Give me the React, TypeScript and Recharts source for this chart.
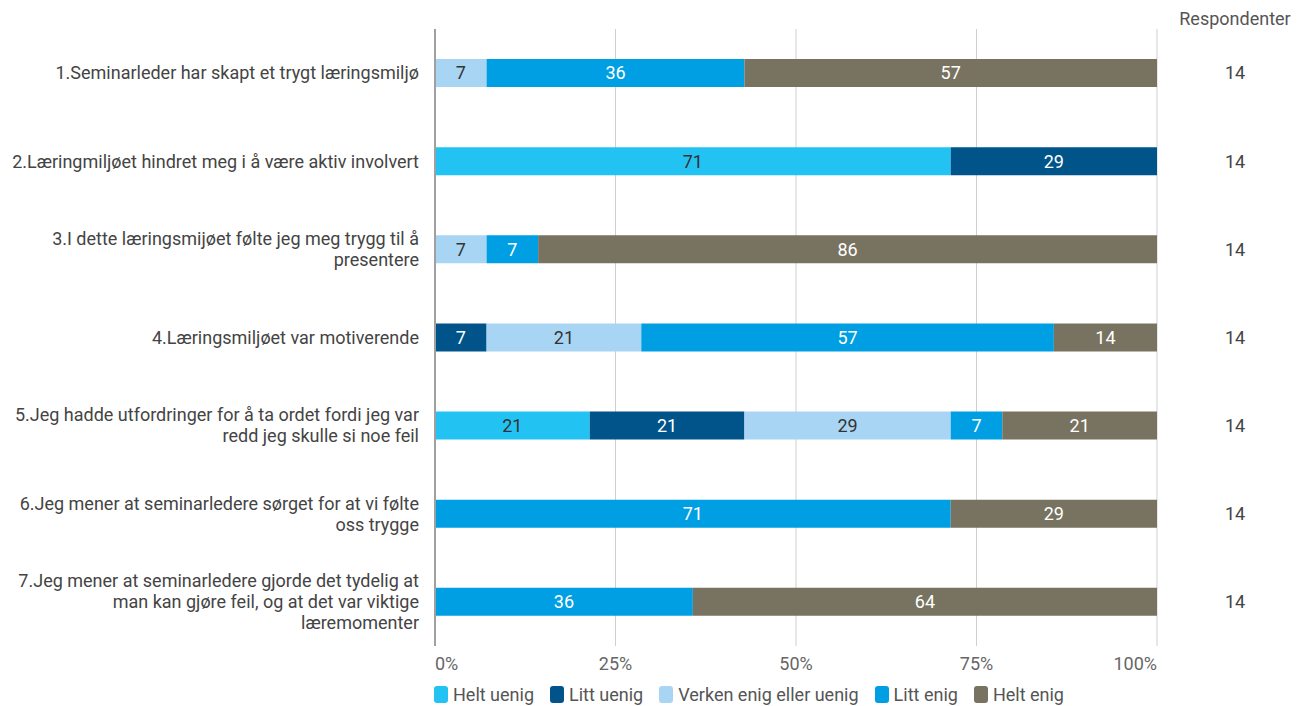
import React from "react";
import { BarChart, Bar, XAxis, YAxis, CartesianGrid, Legend, LabelList, Label } from "recharts";

// Statements (line breaks as in the original)
const statements = [
  "1.Seminarleder har skapt et trygt læringsmiljø",
  "2.Læringmiljøet hindret meg i å være aktiv involvert",
  "3.I dette læringsmijøet følte jeg meg trygg til å\npresentere",
  "4.Læringsmiljøet var motiverende",
  "5.Jeg hadde utfordringer for å ta ordet fordi jeg var\nredd jeg skulle si noe feil",
  "6.Jeg mener at seminarledere sørget for at vi følte\noss trygge",
  "7.Jeg mener at seminarledere gjorde det tydelig at\nman kan gjøre feil, og at det var viktige\nlæremomenter",
];

// answers counted per statement (14 respondents each)
const heltUenig = [0, 10, 0, 0, 3, 0, 0];
const littUenig = [0, 4, 0, 1, 3, 0, 0];
const verken = [1, 0, 1, 3, 4, 0, 0];
const littEnig = [5, 0, 1, 8, 1, 10, 5];
const heltEnig = [8, 0, 12, 2, 3, 4, 9];
const respondents = [14, 14, 14, 14, 14, 14, 14];

const percentTicks = [0, 0.25, 0.5, 0.75, 1];

const series = [
  { key: "heltUenig", name: "Helt uenig", color: "#22C3F3", text: "#333", values: heltUenig },
  { key: "littUenig", name: "Litt uenig", color: "#00548A", text: "#fff", values: littUenig },
  { key: "verken", name: "Verken enig eller uenig", color: "#A9D5F5", text: "#333", values: verken },
  { key: "littEnig", name: "Litt enig", color: "#009FE3", text: "#fff", values: littEnig },
  { key: "heltEnig", name: "Helt enig", color: "#777360", text: "#fff", values: heltEnig },
];

const FONT = 18;

const chartData = statements.map((name, i) => {
  const row: any = { name, respondents: respondents[i] };
  series.forEach((s) => {
    const v = s.values[i];
    row[s.key] = v;
    row[s.key + "Pct"] = Math.round((v / respondents[i]) * 100);
  });
  return row;
});

const CategoryTick = (props: any) => {
  const { x, y, payload } = props;
  const lines = String(payload.value).split("\n");
  const lh = 21;
  const top = y - ((lines.length - 1) * lh) / 2;
  return (
    <text x={x} y={top} textAnchor="end" fill="#444" fontSize={FONT}>
      {lines.map((l, i) => (
        <tspan key={i} x={x} y={top + i * lh} dy="0.35em">
          {l}
        </tspan>
      ))}
    </text>
  );
};

const PercentTick = (props: any) => {
  const { x, y, payload } = props;
  const v = payload.value;
  const anchor = v === 0 ? "start" : v === 1 ? "end" : "middle";
  return (
    <text x={x} y={y} dy="0.71em" textAnchor={anchor} fill="#666" fontSize={FONT}>
      {Math.round(v * 100) + "%"}
    </text>
  );
};

const RespondentTick = (props: any) => {
  const { x, y, index } = props;
  return (
    <text x={x + 78} y={y} dy="0.35em" textAnchor="middle" fill="#444" fontSize={FONT}>
      {chartData[index] ? chartData[index].respondents : ""}
    </text>
  );
};

const renderLegend = () => (
  <div style={{ display: "flex", alignItems: "center", fontSize: FONT, color: "#555", whiteSpace: "nowrap" }}>
    {series.map((s) => (
      <span key={s.key} style={{ display: "flex", alignItems: "center", marginRight: 16 }}>
        <span
          style={{ display: "inline-block", width: 14, height: 17, borderRadius: 3, background: s.color, marginRight: 5 }}
        />
        {s.name}
      </span>
    ))}
  </div>
);

export default function App() {
  return (
    <div style={{ fontFamily: "Roboto, sans-serif" }}>
      <style>{"body{margin:0}"}</style>
      <BarChart
        width={1306}
        height={706}
        data={chartData}
        layout="vertical"
        stackOffset="expand"
        margin={{ top: 29, right: 0, bottom: 3, left: 0 }}
      >
        <CartesianGrid horizontal={false} stroke="#cfcfcf" />
        <XAxis
          type="number"
          domain={[0, 1]}
          ticks={percentTicks}
          axisLine={false}
          tickLine={false}
          tickSize={0}
          tickMargin={11}
          height={36}
          tick={<PercentTick />}
          interval={0}
        />
        <YAxis
          yAxisId="left"
          type="category"
          dataKey="name"
          width={435}
          axisLine={{ stroke: "#a0a0a0", strokeWidth: 2 }}
          tickLine={false}
          tickSize={0}
          tickMargin={16}
          tick={<CategoryTick />}
          interval={0}
        />
        <YAxis
          yAxisId="right"
          orientation="right"
          type="category"
          dataKey="name"
          width={149}
          axisLine={false}
          tickLine={false}
          tickSize={0}
          tickMargin={0}
          tick={<RespondentTick />}
          interval={0}
        >
          <Label
            content={(p: any) => (
              <text x={p.viewBox.x + 78} y={p.viewBox.y - 4} textAnchor="middle" fill="#555" fontSize={FONT}>
                Respondenter
              </text>
            )}
          />
        </YAxis>
        <Legend
          verticalAlign="bottom"
          align="left"
          content={renderLegend}
          wrapperStyle={{ left: 434, bottom: 1 }}
        />
        {series.map((s) => (
          <Bar
            key={s.key}
            dataKey={s.key}
            name={s.name}
            stackId="a"
            yAxisId="left"
            fill={s.color}
            barSize={28}
            isAnimationActive={false}
          >
            <LabelList
              dataKey={s.key + "Pct"}
              position="center"
              fill={s.text}
              fontSize={FONT}
              formatter={(v: any) => (v ? v : "")}
            />
          </Bar>
        ))}
      </BarChart>
    </div>
  );
}
